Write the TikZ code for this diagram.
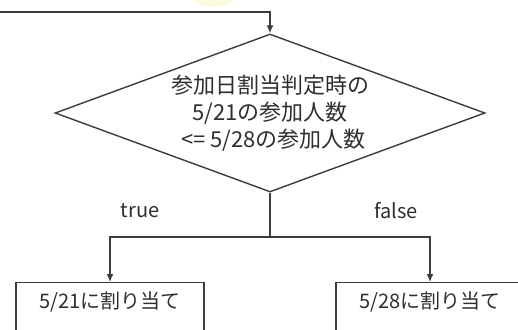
\documentclass[tikz,border=0pt]{standalone}
\usepackage{fontspec}
\setmainfont{Noto Sans CJK JP}
\usetikzlibrary{shapes.geometric,arrows.meta,positioning}
\definecolor{linegray}{HTML}{3C3C3C}
\definecolor{textgray}{HTML}{2E2E2E}

\begin{document}
\begin{tikzpicture}[x=1pt,y=-1pt,
   every node/.style={text=textgray},
   decision/.style={draw=linegray,line width=1.4pt,diamond,aspect=2.72,inner sep=0pt,
      minimum width=430pt,minimum height=158pt,align=center,
      font=\fontsize{22}{27}\selectfont},
   assign/.style={draw=linegray,line width=1.4pt,rectangle,anchor=north,inner xsep=0pt,inner ysep=0pt,
      minimum width=188pt,text height=26pt,text depth=30pt,font=\fontsize{20}{24}\selectfont},
   branch/.style={font=\fontsize{20}{24}\selectfont},
   flow/.style={draw=linegray,line width=1.4pt,-{Latex[length=8pt,width=7pt]}}]

\useasboundingbox (0,0) rectangle (518,329);
\clip (0,0) rectangle (518,329);

% faint mark left over at the top edge
\fill[yellow!70!orange!22,opacity=0.5] (214,-3) ellipse [x radius=21, y radius=10];

\coordinate (entry) at (0,12);
\node[decision] (cond) at (270,113) {参加日割当判定時の\\5/21の参加人数\\\hspace{7pt}<= 5/28の参加人数};
\coordinate (split) at (270,237);

\node[assign] (first) at (110,282) {5/21に割り当て};
\node[assign] (second) at (430,282) {5/28に割り当て};

\node[branch] (truelbl) at (140,211) {true};
\node[branch] (falselbl) at (396,211) {false};

\draw[flow] (entry) -| (cond.north);
\draw[draw=linegray,line width=1.4pt] (cond.south) -- (split);
\draw[flow] (split) -| (first.north);
\draw[flow] (split) -| (second.north);

\end{tikzpicture}
\end{document}
